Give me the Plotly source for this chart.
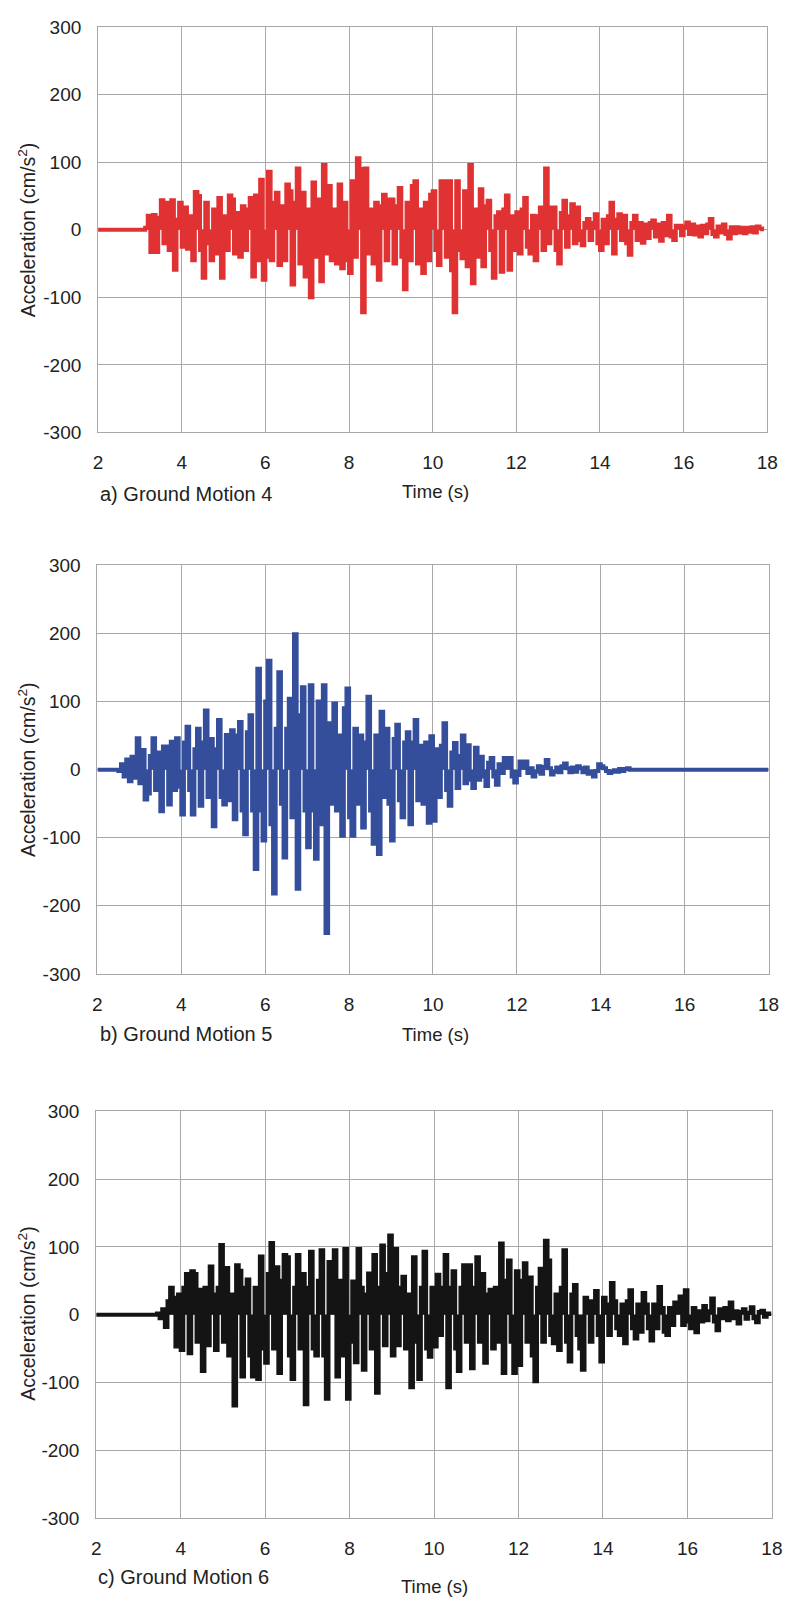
import plotly.graph_objects as go

# ---------------- data ----------------
DT = 0.0625          # sampling step of the digitised records (s)
T_PRE = 2.0          # start of the plotted window (s)
T_END = 18.0

# Ground Motion 4 (record starts at 3.0 s)
gm4_start = 3.0
gm4_acc = [
    0, 0, 3, 21, -33, 22, -33, 18, 44, -20, 40, -30, 44, -59, 15, 40,
    -25, 33, -28, 20, -45, 56, 50, -30, -71, 40, -20, -45, 30, -35, 47, -71,
    20, -30, 51, 45, -35, 25, -40, 35, -30, 30, 47, -69, 51, -45, 74, -74,
    -40, 86, -45, 40, 55, -52, 35, -45, 67, 57, -81, 40, 91, -50, 55, -69,
    30, -100, 70, -40, 45, -76, 96, -35, 65, -45, 30, -50, 67, -57, 40, -45,
    -64, 72, -40, 106, 90, -122, 91, -35, 30, -50, 40, -74, 35, 52, -45, 45,
    45, -50, 35, 62, -40, -88, 40, -45, 65, 72, -50, 30, -64, 40, -45, 52,
    57, -30, -52, 72, 72, -40, 72, -60, -122, 72, -30, -42, 57, -54, 96, -79,
    30, -40, 60, -54, 35, 43, -30, -71, 20, 26, -62, 30, 51, -59, 20, -30,
    26, -35, 30, 47, -25, -35, 21, -45, 20, 33, -30, 91, -20, 33, 33, -30,
    -50, 25, 43, -25, 20, 38, -20, 33, -15, -23, 10, 16, -15, 10, 23, -20,
    -30, 15, -20, 20, 40, -35, 15, 23, -15, 21, -20, -37, 10, 21, -15, 10,
    -19, 8, -12, 10, 14, -10, 8, -16, 10, -8, 21, -10, -15, 6, 6, -8,
    5, 11, -6, 8, -7, 5, -10, 6, -5, 8, 16, -6, -10, 5, -4, 8,
    -6, -13, 4, -5, 4, -4, 3, -5, 3, -3, 4, -4, 5, 2, -2,
]

# Ground Motion 5 (record starts at 2.5 s, quiet after ~14.75 s)
gm5_start = 2.5
gm5_acc = [
    -2, 8, -10, 15, -17, 19, -12, 46,
    -20, 29, -44, -35, 20, 46, -30, 25, -61, 34, 34, -51, 41, -30, 46, -25,
    -66, 40, 63, -30, -66, 30, 60, -53, 40, 87, -40, 45, -83, 30, 73, -40,
    -51, 51, -45, 58, -73, 50, 70, -60, -95, 55, 80, -60, -146, 148, -60, -104,
    100, 160, -80, -182, 60, 143, -50, -129, 60, 104, -70, 199, -175, 80, 121, -60,
    -114, 124, -60, -131, 100, -80, 124, -240, 68, -50, 97, -60, 50, -97, 90, 119,
    -70, -97, 60, -50, 50, -85, 40, 107, -60, -109, 50, -124, 85, -40, 60, -50,
    -104, 45, 66, -45, -70, 40, 55, -80, 40, 73, -45, 35, -50, 40, -78, 49,
    -75, 30, -40, 35, 68, -30, -53, 25, 39, -27, 20, 50, -20, 36, -15, -27,
    32, -15, 19, -10, -24, 10, 17, -10, -22, 8, -5, 17, 5, 17, -10, -19,
    -8, 12, 3, 12, -5, 2, -10, -3, 5, -6, 4, 14, 2, -7, -3, 3,
    -4, 5, 9, 2, -4, 3, -3, 5, 2, -4, 3, -6, -3, -10, -2, 8,
    5, 2, -2, -5, -3, -1, -3, 1, -2, 1, 2, 0, 0,
]

# Ground Motion 6 (record starts at 3.375 s)
gm6_start = 3.375
gm6_acc = [
    0, 2, -5, 8, -18, 20, 40, 25, -47, 30,
    -52, 40, 60, -57, 64, 60, -40, 37, -83, 40, -45, 71, 30, -52, 40, 103,
    -40, 69, -60, 30, -134, 73, 65, -91, 40, 52, -60, -91, 40, -95, 86, -50,
    -71, 60, 106, -50, 70, -86, 50, 88, 85, -60, -95, 40, 88, -50, 60, -132,
    40, 93, -50, -60, 50, 95, -60, -124, 78, 40, 95, -91, 50, -60, 97, -124,
    -40, 49, -70, 97, 40, -81, 30, 61, -50, 88, -115, 40, 102, -45, 60, 117,
    -60, 97, -45, 40, 56, -50, 30, -107, 85, -40, -95, 40, 93, -50, -62, 40,
    -47, 59, -30, 40, 88, -107, 40, 64, -50, -83, 40, 73, -40, 73, -79, 40,
    85, -40, 60, -71, 30, 37, -50, 40, -40, 105, -86, 50, 80, -40, -86, 64,
    -74, 50, 76, -40, 55, -60, -98, 40, 68, -40, 109, 80, -30, -42, 30, -52,
    40, 95, -40, -69, 30, 44, -30, -50, -81, 25, 20, -40, 20, 35, -30, -69,
    25, 15, -30, 47, 20, -20, -30, 15, -42, 20, 36, -20, -35, 15, -25, 32,
    15, -20, -38, 15, -20, 41, 10, -25, -30, 10, -15, 18, 5, 27, -15, 36,
    -10, -20, 10, -26, 5, -10, 13, -8, 5, 24, -10, -23, 8, -5, 10, -8,
    18, -5, 5, -13, 4, 8, -6, 3, 11, -5, -11, 4, 6, -3, 2, -2,
]

x_ticks = [2, 4, 6, 8, 10, 12, 14, 16, 18]
y_ticks = [-300, -200, -100, 0, 100, 200, 300]
y_tick_text = ["-300", "-200", "-100", "0", "100", "200", "300"]
panel_labels = ["a) Ground Motion 4", "b) Ground Motion 5", "c) Ground Motion 6"]
x_title = "Time (s)"
y_title = "Acceleration (cm/s<sup>2</sup>)"


def series(start, acc, tail=False):
    t = [T_PRE] + [start + i * DT for i in range(len(acc))]
    a = [0.0] + list(acc)
    if tail:
        t.append(T_END)
        a.append(0.0)
    return t, a


# ---------------- figure ----------------
W, H = 793, 1608
FONT = "Arial, Liberation Sans, Helvetica, sans-serif"
GRID = "#a8a8a8"
TXT = "#222222"

# plot-area pixel boxes (left, right, top, bottom)
boxes = [(95, 778, 17.5, 428), (94.3, 779.3, 562.7, 976.7), (93.1, 782.7, 1116, 1528)]
colors = ["#e03232", "#344e9b", "#141414"]
data = [series(gm4_start, gm4_acc), series(gm5_start, gm5_acc, tail=True),
        series(gm6_start, gm6_acc)]

fig = go.Figure()
layout = dict(width=W, height=H, margin=dict(l=0, r=0, t=0, b=0),
              paper_bgcolor="white", plot_bgcolor="white", showlegend=False,
              font=dict(family=FONT, color=TXT))
annotations = []

for k, ((l, r, t, b), col, (tt, aa)) in enumerate(zip(boxes, colors, data)):
    n = "" if k == 0 else str(k + 1)
    fig.add_trace(go.Scatter(x=tt, y=aa, mode="lines",
                             line=dict(color=col, width=4, shape="hv", simplify=False),
                             fill="tozeroy", fillcolor=col,
                             xaxis="x" + n, yaxis="y" + n, hoverinfo="skip"))
    layout["xaxis" + n] = dict(domain=[l / W, r / W], anchor="y" + n, range=[2, 18],
                              tickvals=x_ticks, ticktext=[str(v) for v in x_ticks],
                              showgrid=True, gridcolor=GRID, gridwidth=1,
                              showline=True, linecolor=GRID, linewidth=1, mirror=True,
                              zeroline=False, ticks="", ticklabelstandoff=13,
                              tickfont=dict(size=19, color=TXT, family=FONT), fixedrange=True)
    layout["yaxis" + n] = dict(domain=[1 - b / H, 1 - t / H], anchor="x" + n, range=[-300, 300],
                              tickvals=y_ticks, ticktext=y_tick_text,
                              showgrid=True, gridcolor=GRID, gridwidth=1,
                              showline=True, linecolor=GRID, linewidth=1, mirror=True,
                              zeroline=False, ticks="", ticklabelstandoff=12,
                              tickfont=dict(size=19, color=TXT, family=FONT), fixedrange=True)

label_pos = [(95, 490, 403, 488), (95, 1038, 403, 1038), (93, 1588, 402, 1597)]
ytitle_y = [223, 770, 1321]
for k in range(3):
    lx, ly, tx, ty = label_pos[k]
    annotations.append(dict(x=lx / W, y=1 - ly / H, xref="paper", yref="paper", text=panel_labels[k],
                            showarrow=False, xanchor="left", yanchor="middle",
                            font=dict(size=20, color=TXT, family=FONT)))
    annotations.append(dict(x=tx / W, y=1 - ty / H, xref="paper", yref="paper", text=x_title,
                            showarrow=False, xanchor="left", yanchor="middle",
                            font=dict(size=18.5, color=TXT, family=FONT)))
    annotations.append(dict(x=22.5 / W, y=1 - ytitle_y[k] / H, xref="paper", yref="paper", text=y_title,
                            showarrow=False, xanchor="center", yanchor="middle", textangle=-90,
                            font=dict(size=19.5, color=TXT, family=FONT)))

layout["annotations"] = annotations
fig.update_layout(**layout)
fig.write_html("out.html", config={"displayModeBar": False})
